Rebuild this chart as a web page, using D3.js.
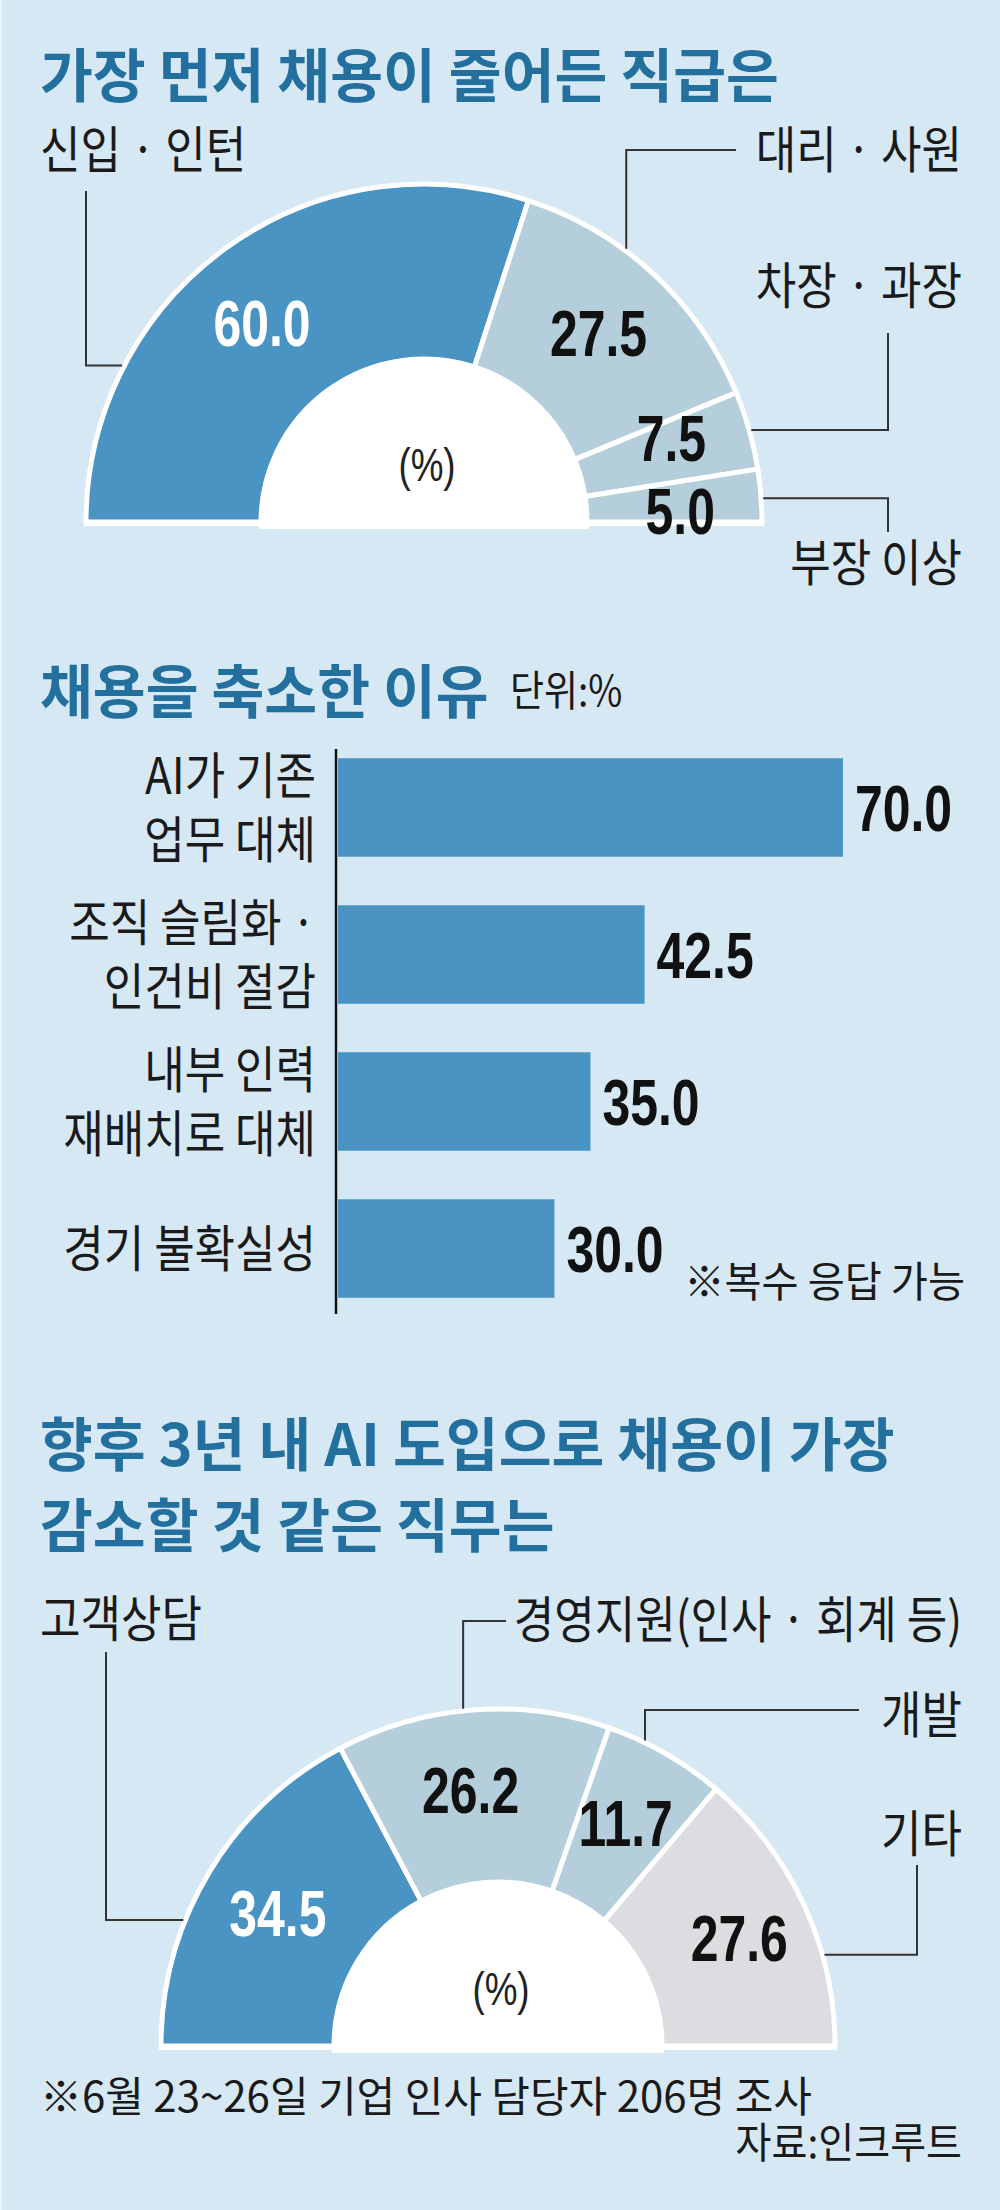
<!DOCTYPE html>
<html>
<head>
<meta charset="utf-8">
<script src="https://cdn.jsdelivr.net/npm/d3@7"></script>
<style>
  body { margin: 0; background: #d6e8f4; }
</style>
</head>
<body>
<div id="chart"></div>
<script>
// ---- data ----
const title1 = "가장 먼저 채용이 줄어든 직급은";
const rankLabels = ["신입 · 인턴", "대리 · 사원", "차장 · 과장", "부장 이상"];
const rankValues = [60.0, 27.5, 7.5, 5.0];

const title2 = "채용을 축소한 이유";
const unitNote = "단위:%";
const reasonLabels = [["AI가 기존", "업무 대체"], ["조직 슬림화 ·", "인건비 절감"], ["내부 인력", "재배치로 대체"], ["경기 불확실성"]];
const reasonValues = [70.0, 42.5, 35.0, 30.0];
const multiNote = "※복수 응답 가능";

const title3 = ["향후 3년 내 AI 도입으로 채용이 가장", "감소할 것 같은 직무는"];
const jobLabels = ["고객상담", "경영지원(인사 · 회계 등)", "개발", "기타"];
const jobValues = [34.5, 26.2, 11.7, 27.6];

const footNote = "※6월 23~26일 기업 인사 담당자 206명 조사";
const sourceNote = "자료:인크루트";

// ---- style ----
const W = 1000, H = 2210;
const KR = "'Noto Sans CJK KR', 'Noto Sans CJK SC', sans-serif";
const NUM = "'Liberation Sans', Arial, sans-serif";
const TITLE = "#23709f";
const DARK = "#4a94c3", LIGHT = "#b4cedc", GRAY = "#dcdde0";

const svg = d3.select("#chart").append("svg")
  .attr("width", W).attr("height", H);

svg.append("rect").attr("width", W).attr("height", H).attr("fill", "#d6e8f4");
svg.append("rect").attr("width", 2).attr("height", H).attr("fill", "#eef5fa");

function txt(str, x, y, o = {}) {
  return svg.append("text")
    .attr("transform", `translate(${x},${y}) scale(${o.sx || 1},1)`)
    .attr("text-anchor", o.anchor || "start")
    .attr("font-family", o.font || KR)
    .attr("font-size", o.size || 50)
    .attr("font-weight", o.weight || 400)
    .attr("fill", o.fill || "#1a1a1a")
    .text(str);
}

function title(str, y) {
  txt(str, 40, y, { size: 58, weight: 700, fill: TITLE, sx: 0.99 });
}

// half donut with leader lines
function halfDonut(cfg) {
  const g = svg.append("g").attr("transform", `translate(${cfg.cx},${cfg.cy})`);
  const pie = d3.pie().sort(null).startAngle(-Math.PI / 2).endAngle(Math.PI / 2);
  const arcs = pie(cfg.values);
  const arc = d3.arc().innerRadius(cfg.r0).outerRadius(cfg.r1);

  g.append("rect")
    .attr("x", -cfg.r1 - 2).attr("y", -2)
    .attr("width", 2 * cfg.r1 + 4).attr("height", 6)
    .attr("fill", "#fff");

  g.selectAll("path.seg").data(arcs).join("path")
    .attr("class", "seg")
    .attr("d", arc)
    .attr("fill", (d, i) => cfg.colors[i])
    .attr("stroke", "#fff")
    .attr("stroke-width", 5)
    .attr("stroke-linejoin", "round");

  g.append("path")
    .attr("d", d3.arc()({ innerRadius: 0, outerRadius: cfg.r0 + 2, startAngle: -Math.PI / 2, endAngle: Math.PI / 2 }))
    .attr("fill", "#fff");
  g.append("rect")
    .attr("x", -cfg.r0 - 2).attr("y", -2)
    .attr("width", 2 * cfg.r0 + 4).attr("height", 9)
    .attr("fill", "#fff");

  // leaders
  const R = cfg.r1 + 2;
  cfg.leaders.forEach(l => {
    const a = l.angle * Math.PI / 180;
    const x0 = cfg.cx + Math.cos(a) * R, y0 = cfg.cy - Math.sin(a) * R;
    const pts = l.first === "h"
      ? [[x0, y0], [l.x, y0], [l.x, l.y]]
      : [[x0, y0], [x0, l.y], [l.x, l.y]];
    svg.append("path")
      .attr("d", d3.line()(pts))
      .attr("fill", "none")
      .attr("stroke", "#333")
      .attr("stroke-width", 2);
  });

  // category labels
  cfg.labels.forEach((s, i) => {
    const p = cfg.labelPos[i];
    txt(s, p.x, p.y, { anchor: p.anchor, size: 50, sx: 0.88 });
  });

  // values
  arcs.forEach((d, i) => {
    const m = (d.startAngle + d.endAngle) / 2;
    const n = cfg.nudge[i] || [0, 0];
    const x = cfg.cx + Math.sin(m) * cfg.labelR + n[0];
    const y = cfg.cy - Math.cos(m) * cfg.labelR + n[1];
    txt(d3.format(".1f")(d.data), x, y + 23, {
      anchor: "middle", font: NUM, size: 64, weight: 700, sx: 0.78,
      fill: cfg.colors[i] === DARK ? "#fff" : "#111"
    });
  });

  txt("(%)", cfg.cx + 3, cfg.cy - 53 + 12, { anchor: "middle", font: NUM, size: 46, sx: 0.8, fill: "#222" });
}

// ---- chart 1 ----
title(title1, 97);
halfDonut({
  cx: 424, cy: 522, r0: 163, r1: 338, labelR: 257,
  values: rankValues, labels: rankLabels,
  colors: [DARK, LIGHT, LIGHT, LIGHT],
  nudge: [[-11, 9], [0, 0], [0, -14], [0, 9]],
  labelPos: [
    { x: 40, y: 168, anchor: "start" },
    { x: 962, y: 168, anchor: "end" },
    { x: 962, y: 304, anchor: "end" },
    { x: 962, y: 581, anchor: "end" }
  ],
  leaders: [
    { angle: 152.6, first: "h", x: 86, y: 191 },
    { angle: 53.5, first: "v", x: 736, y: 150 },
    { angle: 15.7, first: "h", x: 888, y: 333 },
    { angle: 4, first: "h", x: 888, y: 532 }
  ]
});

// ---- chart 2 ----
title(title2, 713);
txt(unitNote, 510, 706, { size: 42, sx: 0.88 });

const reasonKeys = reasonLabels.map(d => d.join(" "));
const x = d3.scaleLinear().domain([0, d3.max(reasonValues)]).range([338, 843]);
const y = d3.scaleBand().domain(reasonKeys).range([734, 1322])
  .paddingInner(0.33).paddingOuter(0.165);

svg.selectAll("rect.bar").data(reasonValues).join("rect")
  .attr("class", "bar")
  .attr("x", x(0))
  .attr("y", (d, i) => y(reasonKeys[i]))
  .attr("width", d => x(d) - x(0))
  .attr("height", y.bandwidth())
  .attr("fill", DARK);

svg.append("line")
  .attr("x1", 336).attr("x2", 336)
  .attr("y1", y.range()[0] + 15).attr("y2", y.range()[1] - 8)
  .attr("stroke", "#111").attr("stroke-width", 2.5);

reasonValues.forEach((v, i) => {
  const cy = y(reasonKeys[i]) + y.bandwidth() / 2;
  txt(d3.format(".1f")(v), x(v) + 12, cy + 23, { font: NUM, size: 64, weight: 700, sx: 0.78, fill: "#111" });
  const lines = reasonLabels[i];
  lines.forEach((s, j) => {
    const off = lines.length === 1 ? 0 : (j === 0 ? -32 : 32);
    txt(s, 316, cy + 18 + off, { anchor: "end", size: 50, sx: 0.88 });
  });
});

txt(multiNote, 965, 1297, { anchor: "end", size: 42, sx: 0.96 });

// ---- chart 3 ----
title(title3[0], 1466);
title(title3[1], 1547);
halfDonut({
  cx: 498, cy: 2046, r0: 164, r1: 337, labelR: 257,
  values: jobValues, labels: jobLabels,
  colors: [DARK, LIGHT, LIGHT, GRAY],
  nudge: [[0, 0], [-8, 0], [0, 0], [8, 0]],
  labelPos: [
    { x: 40, y: 1637, anchor: "start" },
    { x: 962, y: 1638, anchor: "end" },
    { x: 962, y: 1733, anchor: "end" },
    { x: 962, y: 1852, anchor: "end" }
  ],
  leaders: [
    { angle: 158.2, first: "h", x: 106, y: 1652 },
    { angle: 95.9, first: "v", x: 506, y: 1621 },
    { angle: 64.3, first: "v", x: 859, y: 1710 },
    { angle: 15.6, first: "h", x: 917, y: 1865 }
  ]
});

txt(footNote, 40, 2112, { size: 42, sx: 1.0 });
txt(sourceNote, 962, 2158, { anchor: "end", size: 42, sx: 0.93 });
</script>
</body>
</html>
